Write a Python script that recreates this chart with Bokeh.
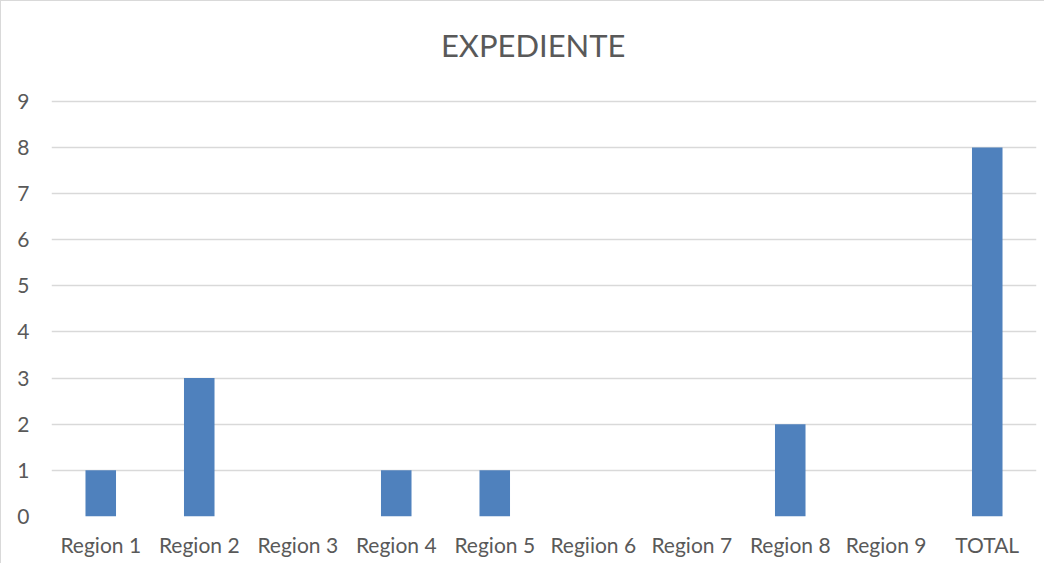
from bokeh.plotting import figure
from bokeh.models import FixedTicker, Range1d, Label
from bokeh.embed import file_html
from bokeh.resources import INLINE

categories = ["Region 1", "Region 2", "Region 3", "Region 4", "Region 5",
              "Regiion 6", "Region 7", "Region 8", "Region  9", "TOTAL"]
values = [1, 3, 0, 1, 1, 0, 0, 2, 0, 8]
y_ticks = [0, 1, 2, 3, 4, 5, 6, 7, 8, 9]
title_text = "EXPEDIENTE"

FONT = "Lato"
GRAY = "#595959"

# y range extends above 9 only to leave room for the title inside the frame
p = figure(x_range=categories, y_range=Range1d(0, 10.73), width=1044, height=563,
           output_backend="svg", toolbar_location=None,
           min_border_left=50, min_border_right=9, min_border_top=20, min_border_bottom=48)

p.vbar(x=categories, top=values, width=0.31, fill_color="#4f81bd", line_color=None)

title = Label(x=4.89, y=10.21, text=title_text, text_align="center", text_baseline="middle",
              text_font=FONT, text_font_size="31px", text_color=GRAY)
p.add_layout(title)

p.outline_line_color = None
p.xgrid.grid_line_color = None
p.ygrid.grid_line_color = "#d9d9d9"
p.ygrid.grid_line_width = 1.5

p.yaxis.ticker = FixedTicker(ticks=y_ticks)
for ax in (p.xaxis, p.yaxis):
    ax.axis_line_color = None
    ax.major_tick_line_color = None
    ax.minor_tick_line_color = None
    ax.major_label_text_font = FONT
    ax.major_label_text_font_size = "21px"
    ax.major_label_text_color = GRAY
p.yaxis.major_label_standoff = 16
p.xaxis.major_label_standoff = 9
p.x_range.range_padding = 0

p.styles = {"border-top": "1px solid #d9d9d9", "border-left": "1px solid #d9d9d9"}

open("out.html", "w").write(file_html(p, INLINE))
